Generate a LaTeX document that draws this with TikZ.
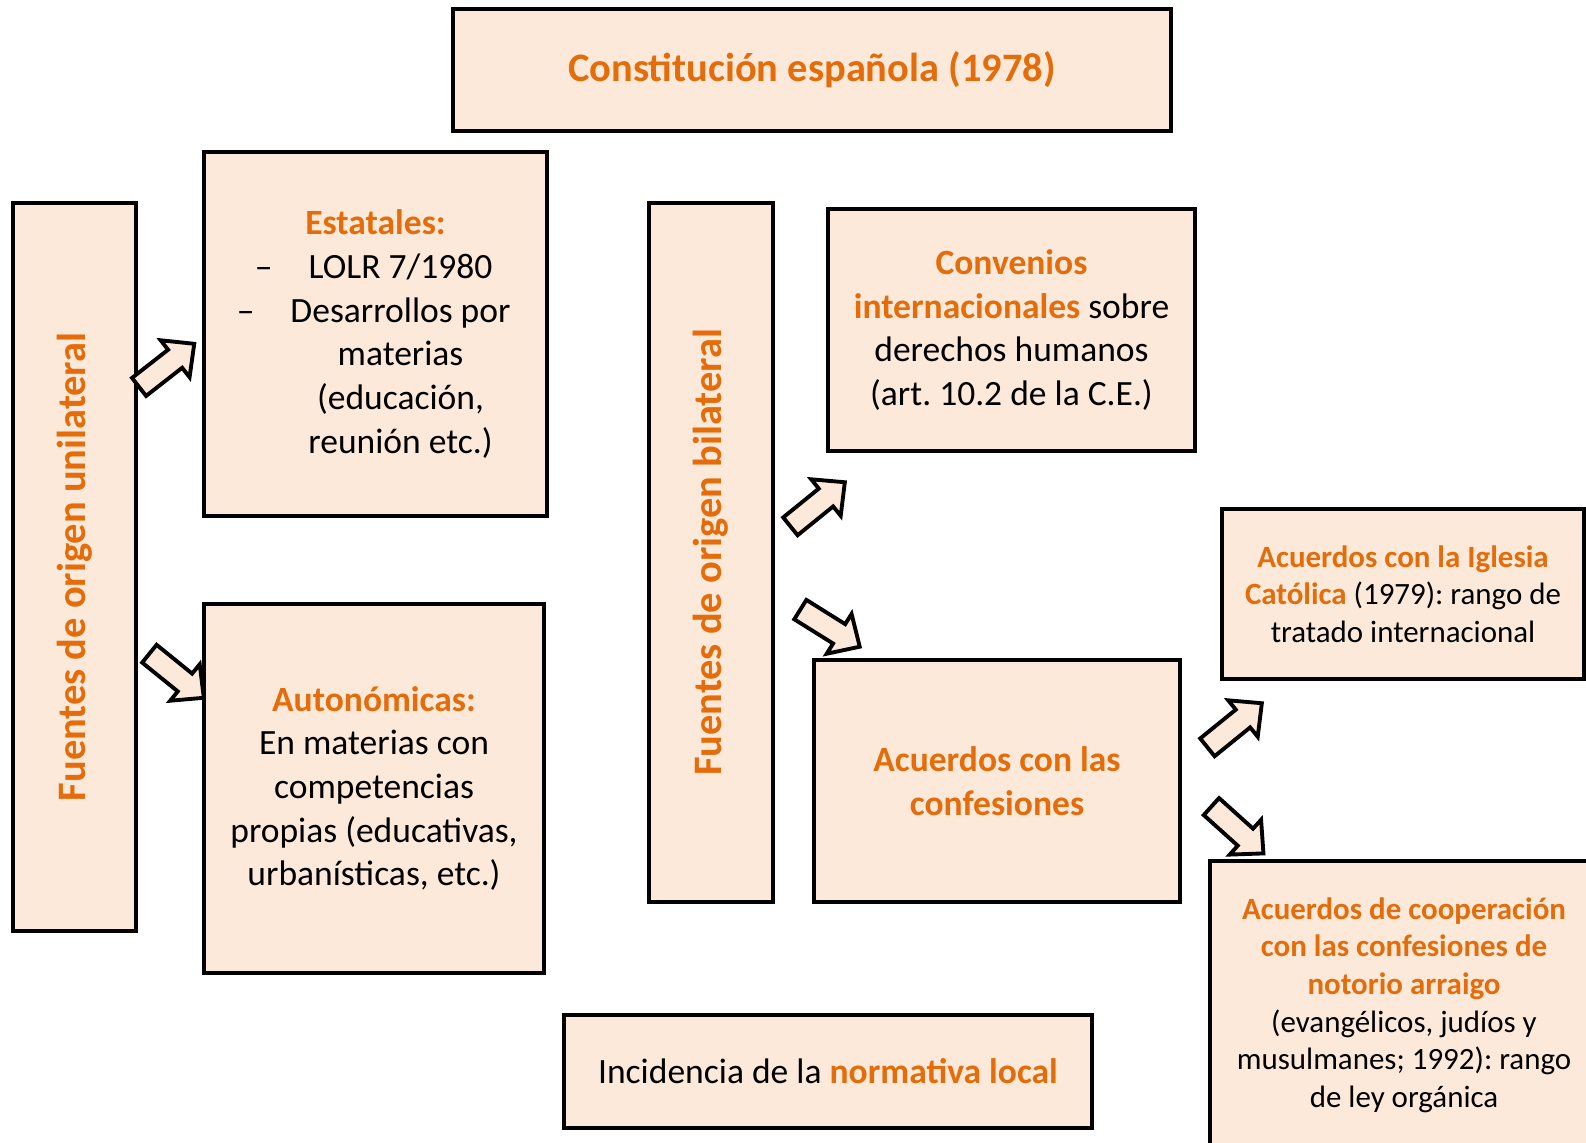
\documentclass[tikz,border=0pt]{standalone}
\usepackage{fontspec}
\setmainfont{Carlito}
\usepackage{tikz}
\usetikzlibrary{shapes,shapes.arrows}
\definecolor{boxfill}{HTML}{FDE9D9}
\definecolor{orangetext}{HTML}{E46C0A}
\newcommand{\hl}[1]{\textcolor{orangetext}{\textbf{#1}}}
\frenchspacing

\begin{document}
\begin{tikzpicture}[x=0.01cm, y=-0.01cm,
  srcbox/.style={draw, line width=1.1pt, fill=boxfill, align=center, inner sep=0, font=\fontsize{10.1}{12.4}\selectfont},
  smallbox/.style={srcbox, font=\fontsize{8.8}{10.7}\selectfont},
  bigbox/.style={srcbox, text=orangetext, font=\fontsize{11.5}{14}\selectfont\bfseries},
  blockarrow/.style={single arrow, draw, line width=1.1pt, fill=boxfill, minimum height=0.70cm, inner xsep=0, inner ysep=0.095cm, single arrow head extend=0.12cm, single arrow tip angle=88}]
\useasboundingbox (0,0) rectangle (1586,1142);
%top
\node[bigbox, minimum width=7.18cm, minimum height=1.22cm] (ce) at (812,70) {Constitución española (1978)};
%unilateral side
\node[bigbox, rotate=90, minimum width=7.28cm, minimum height=1.23cm] (unil) at (74.5,567) {Fuentes de origen unilateral};
\node[srcbox, minimum width=3.43cm, minimum height=3.64cm] (estat) at (375.5,334) {\hl{Estatales:}\\
  \hspace*{0.5cm}\llap{–\hspace{0.36cm}}LOLR 7/1980\\
  \hspace*{0.5cm}\llap{–\hspace{0.36cm}}Desarrollos por\\
  \hspace*{0.5cm}materias\\
  \hspace*{0.5cm}(educación,\\
  \hspace*{0.5cm}reunión etc.)};
\node[srcbox, minimum width=3.40cm, minimum height=3.69cm] (auton) at (374,788.5) {\hl{Autonómicas:}\\En materias con\\competencias\\propias (educativas,\\urbanísticas, etc.)};
%bilateral side
\node[bigbox, rotate=90, minimum width=6.99cm, minimum height=1.24cm] (bilat) at (711,552.5) {Fuentes de origen bilateral};
\node[srcbox, minimum width=3.67cm, minimum height=2.42cm] (conv) at (1011.5,330) {\hl{Convenios}\\\hl{internacionales} sobre\\derechos humanos\\(art. 10.2 de la C.E.)};
\node[srcbox, minimum width=3.66cm, minimum height=2.42cm] (confes) at (997,781) {\hl{Acuerdos con las}\\\hl{confesiones}};
\node[smallbox, minimum width=3.62cm, minimum height=1.70cm] (iglesia) at (1403,594) {\hl{Acuerdos con la Iglesia}\\\hl{Católica} (1979): rango de\\tratado internacional};
\node[smallbox, minimum width=3.88cm, minimum height=2.88cm] (coop) at (1404,1005) {\hl{Acuerdos de cooperación}\\\hl{con las confesiones de}\\\hl{notorio arraigo}\\(evangélicos, judíos y\\musulmanes; 1992): rango\\de ley orgánica};
\node[srcbox, minimum width=5.28cm, minimum height=1.13cm] (local) at (828,1071.5) {Incidencia de la \hl{normativa local}};
%block arrows
\node[blockarrow, rotate=38] (a1) at (162,369) {};
\node[blockarrow, rotate=-39] (a2) at (172,672) {};
\node[blockarrow, rotate=39] (a3) at (813,508) {};
\node[blockarrow, rotate=-32] (a4) at (825,625) {};
\node[blockarrow, rotate=39] (a5) at (1230,729) {};
\node[blockarrow, rotate=-42] (a6) at (1233,826) {};
\end{tikzpicture}
\end{document}
